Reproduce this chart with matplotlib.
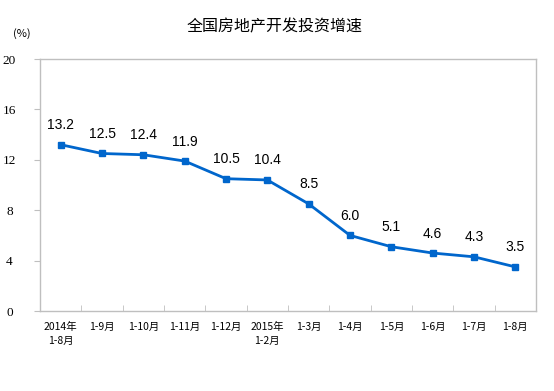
import matplotlib.pyplot as plt
import numpy as np

plt.rcParams['font.family'] = ['Noto Sans CJK SC', 'DejaVu Sans']

months = ['2014年\n1-8月', '1-9月', '1-10月', '1-11月', '1-12月', '2015年\n1-2月',
          '1-3月', '1-4月', '1-5月', '1-6月', '1-7月', '1-8月']
growth = [13.2, 12.5, 12.4, 11.9, 10.5, 10.4, 8.5, 6.0, 5.1, 4.6, 4.3, 3.5]
y_ticks = [0, 4, 8, 12, 16, 20]

fig = plt.figure(figsize=(5.54, 3.91), dpi=100)
ax = fig.add_axes([40 / 554, 1 - 311 / 391, 496 / 554, 252 / 391])

x = np.arange(len(months))
line_color = '#0066CC'
ax.plot(x, growth, color=line_color, linewidth=2, marker='s', markersize=5)

# value labels above each point
for xi, v in zip(x, growth):
    ax.annotate(f'{v:.1f}', (xi, v), xytext=(0, 9), textcoords='offset points',
                ha='center', va='bottom', fontsize=10, family=['Liberation Sans'])

ax.set_xlim(-0.5, len(months) - 0.5)
ax.set_ylim(0, 20)
ax.set_yticks(y_ticks)
ax.set_yticklabels([str(t) for t in y_ticks], fontsize=9.5)
ax.set_xticks(x)
ax.set_xticklabels(months, fontsize=7.5, linespacing=1.5)
ax.set_xticks(np.arange(0.5, len(months) - 1, 1), minor=True)

ax.tick_params(axis='x', which='major', length=0, pad=8)
ax.tick_params(axis='x', which='minor', direction='in', length=4, color='#BFBFBF')
ax.tick_params(axis='y', direction='out', length=4, color='#BFBFBF', pad=18)
for lbl in ax.get_yticklabels():
    lbl.set_horizontalalignment('center')
    lbl.set_family('Liberation Serif')

for s in ax.spines.values():
    s.set_color('#BFBFBF')
    s.set_linewidth(1)

fig.text(275 / 554, 1 - 27 / 391, '全国房地产开发投资增速', ha='center', va='center', fontsize=11.5)
fig.text(22 / 554, 1 - 34 / 391, '(%)', ha='center', va='center', fontsize=8)

fig.savefig('out.png', dpi=100)
